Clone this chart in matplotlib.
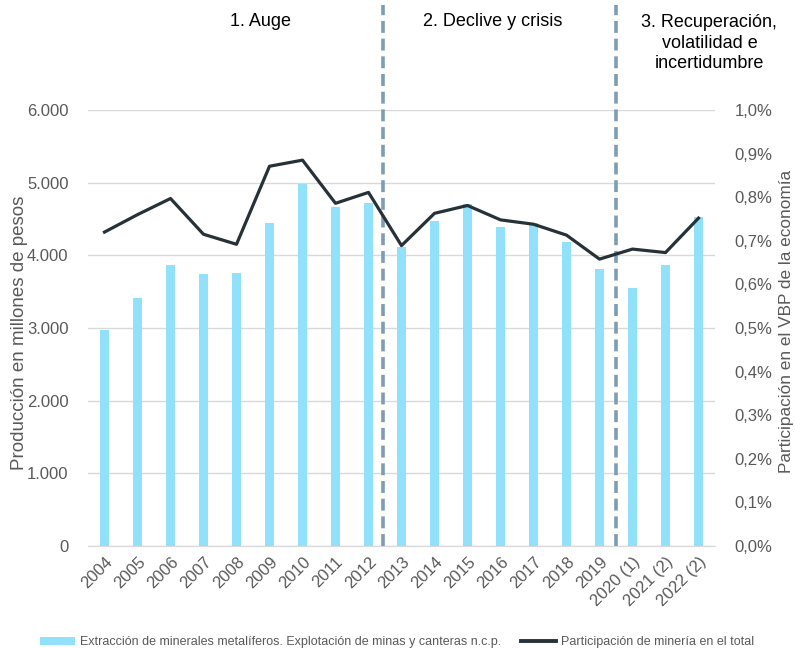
import matplotlib
matplotlib.use("Agg")
import matplotlib.pyplot as plt
import matplotlib.transforms as mtransforms
from matplotlib.lines import Line2D
from matplotlib.patches import Patch
import numpy as np

plt.rcParams['font.family'] = ['Liberation Sans', 'DejaVu Sans']

# Data
years = ["2004", "2005", "2006", "2007", "2008", "2009", "2010", "2011", "2012",
         "2013", "2014", "2015", "2016", "2017", "2018", "2019",
         "2020 (1)", "2021 (2)", "2022 (2)"]
production = [2970, 3410, 3870, 3740, 3760, 4440, 4980, 4670, 4720,
              4120, 4470, 4700, 4390, 4450, 4190, 3810, 3550, 3870, 4530]
share = [0.720, 0.760, 0.797, 0.715, 0.692, 0.871, 0.885, 0.786, 0.811,
         0.689, 0.763, 0.781, 0.748, 0.738, 0.713, 0.658, 0.681, 0.673, 0.752]
phase_breaks = [8.45, 15.49]
phase_labels = ["1. Auge", "2. Declive y crisis",
                "3. Recuperación,\nvolatilidad e\nincertidumbre"]
phase_pos = [4.72, 11.77, 18.33]

BAR_COLOR = "#91e1fb"
LINE_COLOR = "#263238"
DASH_COLOR = "#7d9db3"
TEXT_GREY = "#595959"
GRID_COLOR = "#d9d9d9"

fig = plt.figure(figsize=(7.95, 6.48), dpi=100)
ax = fig.add_axes([88 / 795, 1 - 546 / 648, (715 - 88) / 795, 436 / 648])
ax2 = ax.twinx()

x = np.arange(len(years))
ax.bar(x, production, width=0.3, color=BAR_COLOR, zorder=2)
ax.set_xlim(-0.5, len(years) - 0.5)
ax.set_ylim(0, 6000)
ax.set_yticks(np.arange(0, 6001, 1000))
ax.set_yticklabels(["0", "1.000", "2.000", "3.000", "4.000", "5.000", "6.000"])
ax.yaxis.grid(True, color=GRID_COLOR, lw=1, zorder=0)
ax.set_axisbelow(True)

ax2.plot(x, share, color=LINE_COLOR, lw=2.3, zorder=3)
ax2.set_ylim(0, 1.0)
ax2.set_yticks(np.arange(0, 1.01, 0.1))
ax2.set_yticklabels([f"{v:.1f}%".replace(".", ",") for v in np.arange(0, 1.01, 0.1)])

for a in (ax, ax2):
    for side in ("top", "left", "right"):
        a.spines[side].set_visible(False)
    a.spines["bottom"].set_color(GRID_COLOR)
    a.tick_params(axis="both", length=0, labelsize=12, labelcolor=TEXT_GREY)

ax.tick_params(axis="y", pad=14)
ax2.tick_params(axis="y", pad=14)
ax.set_xticks(x)
ax.set_xticklabels(years, rotation=45, ha="right", rotation_mode="anchor", fontsize=12)
ax.tick_params(axis="x", pad=6)

# Axis titles placed in figure pixels
fig.text(20 / 795, 1 - 333 / 648, "Producción en millones de pesos", rotation=90,
         ha="center", va="center", fontsize=13.5, color=TEXT_GREY)
fig.text(786 / 795, 1 - 321 / 648, "Participación en el VBP de la economía", rotation=90,
         ha="center", va="center", fontsize=12.4, color=TEXT_GREY)

# Phase separators and titles
for xb in phase_breaks:
    ax.axvline(xb, ymin=0, ymax=541 / 436, color=DASH_COLOR, lw=2.6,
               dashes=(3.3, 1.6), clip_on=False, zorder=4)

trans = mtransforms.blended_transform_factory(ax.transData, ax.transAxes)
ax.text(phase_pos[0], (546 - 22) / 436, phase_labels[0], transform=trans,
        ha="center", va="center", fontsize=13, color="black")
ax.text(phase_pos[1], (546 - 22) / 436, phase_labels[1], transform=trans,
        ha="center", va="center", fontsize=13, color="black")
ax.text(phase_pos[2], (546 - 43) / 436, phase_labels[2], transform=trans,
        ha="center", va="center", fontsize=13, color="black", linespacing=1.3)

handles = [Patch(facecolor=BAR_COLOR, edgecolor="none"),
           Line2D([0], [0], color=LINE_COLOR, lw=2.8)]
labels = ["Extracción de minerales metalíferos. Explotación de minas y canteras n.c.p.",
          "Participación de minería en el total"]
fig.legend(handles, labels, loc="center", bbox_to_anchor=(0.4994, 1 - 642 / 648),
           ncol=2, frameon=False, fontsize=9, labelcolor=TEXT_GREY,
           handlelength=2.8, handleheight=0.6, handletextpad=0.4, columnspacing=1.6,
           borderpad=0)

fig.savefig("out.png", dpi=100, facecolor="white")
